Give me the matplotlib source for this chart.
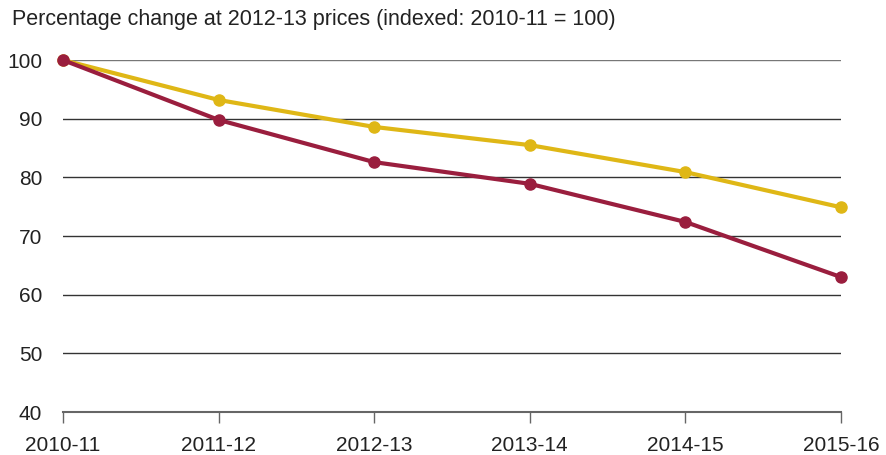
import matplotlib
matplotlib.use("Agg")
import matplotlib.pyplot as plt

years = ["2010-11", "2011-12", "2012-13", "2013-14", "2014-15", "2015-16"]
series_yellow = [100, 93.2, 88.6, 85.5, 80.9, 74.9]
series_red = [100, 89.8, 82.6, 78.9, 72.4, 63.0]
yticks = [40, 50, 60, 70, 80, 90, 100]

plt.rcParams["font.family"] = ["Liberation Sans", "DejaVu Sans"]

fig = plt.figure(figsize=(8.86, 4.55), dpi=100)
ax = fig.add_axes([0.0711, 0.0945, 0.8781, 0.7735])

x = list(range(len(years)))
for yv in yticks[1:]:
    ax.axhline(yv, color="#333333" if yv != 100 else "#777777", lw=1.0, zorder=1)

ax.plot(x, series_yellow, color="#dfb716", lw=3, marker="o", ms=8, zorder=3, clip_on=False)
ax.plot(x, series_red, color="#9a1e3e", lw=3, marker="o", ms=8, zorder=4, clip_on=False)

ax.set_xlim(0, 5)
ax.set_ylim(40, 100)
ax.set_xticks(x)
ax.set_xticklabels(years)
ax.set_yticks(yticks)
for s in ["top", "right", "left"]:
    ax.spines[s].set_visible(False)
ax.spines["bottom"].set_color("#666666")
ax.spines["bottom"].set_linewidth(1.5)
ax.tick_params(axis="x", length=8, width=1, color="#666666", pad=9, labelsize=15, labelcolor="#222222")
ax.tick_params(axis="y", length=0, pad=15, labelsize=15, labelcolor="#222222")

fig.text(12 / 886, 1 - 20 / 455, "Percentage change at 2012-13 prices (indexed: 2010-11 = 100)",
         fontsize=15.5, color="#222222", va="center", ha="left")

fig.savefig("out.png", dpi=100)
